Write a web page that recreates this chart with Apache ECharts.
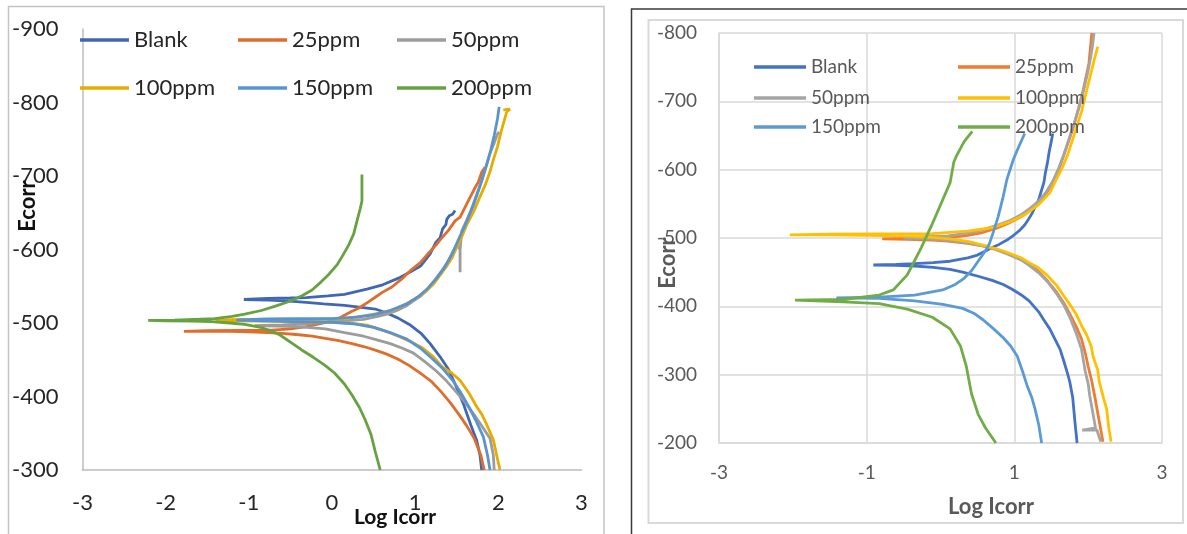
<!DOCTYPE html>
<html><head><meta charset="utf-8">
<script src="https://cdn.jsdelivr.net/npm/echarts@6/dist/echarts.min.js"></script>
<style>html,body{margin:0;padding:0;background:#fff}#c{width:1187px;height:534px}</style>
</head><body><div id="c"></div>
<script>
// ---------- shared ----------
const seriesNames = ['Blank','25ppm','50ppm','100ppm','150ppm','200ppm'];
const xTicksLeft = [-3,-2,-1,0,1,2,3];
const yTicksLeft = [-900,-800,-700,-600,-500,-400,-300];
const xTicksRight = [-3,-1,1,3];
const yTicksRight = [-800,-700,-600,-500,-400,-300,-200];

// ---------- left chart data: [Log Icorr, Ecorr] ----------
const L_blank = [[1.80,-300],[1.78,-320],[1.74,-340],[1.67,-361],[1.58,-390],[1.48,-417],[1.40,-437],[1.30,-454],[1.18,-472],[1.07,-486],[0.93,-498],[0.79,-507],[0.65,-514],[0.52,-519],[0.30,-522],[0.15,-524],[-0.10,-526],[-0.31,-528],[-0.55,-530],[-0.77,-531],[-1.06,-532],
 [-0.77,-533.5],[-0.50,-534],[-0.31,-534.5],[-0.05,-537],[0.15,-539],[0.42,-546],[0.61,-552],[0.80,-561],[0.95,-570],[1.07,-578],[1.18,-594],[1.25,-610],[1.30,-616],[1.33,-628],[1.37,-634],[1.38,-641],[1.41,-646],[1.45,-648],[1.48,-653]];
const L_25 = [[1.83,-300],[1.79,-320],[1.71,-343],[1.62,-360],[1.53,-375],[1.42,-392],[1.30,-408],[1.19,-421],[1.07,-431],[0.93,-442],[0.79,-451],[0.65,-458],[0.52,-463],[0.38,-468],[0.24,-472],[0.08,-476],[-0.08,-479],[-0.24,-482],[-0.40,-484],[-0.60,-486],[-0.77,-487],[-1.00,-488],[-1.23,-488.5],[-1.50,-488.5],[-1.78,-488.5],
 [-1.50,-489.5],[-1.10,-490],[-0.77,-490],[-0.50,-492],[-0.31,-495],[-0.10,-500],[0.06,-505],[0.24,-516],[0.32,-520],[0.43,-528],[0.52,-535],[0.61,-542],[0.72,-549],[0.84,-560],[0.95,-572],[1.07,-583],[1.16,-595],[1.25,-606],[1.30,-613],[1.40,-626],[1.48,-639],[1.54,-644],[1.62,-662],[1.66,-671],[1.72,-684],[1.76,-692],[1.80,-705],[1.84,-712]];
const L_50 = [[1.95,-300],[1.94,-320],[1.90,-343],[1.80,-360],[1.71,-375],[1.60,-392],[1.48,-408],[1.37,-422],[1.25,-435],[1.12,-447],[0.98,-459],[0.84,-466],[0.70,-472],[0.54,-477],[0.38,-482],[0.15,-487],[-0.08,-492],[-0.30,-494],[-0.54,-495.5],[-0.93,-496.5],
 [-0.60,-497.5],[-0.30,-499],[-0.08,-501],[0.15,-503],[0.38,-505],[0.55,-509],[0.66,-512],[0.78,-517],[0.89,-523],[0.98,-530],[1.07,-537],[1.16,-547],[1.25,-560],[1.32,-571],[1.39,-583],[1.46,-598],[1.50,-606],[1.54,-600],[1.54,-569],[1.54,-600],[1.56,-625],[1.62,-640],[1.67,-653],[1.74,-675],[1.80,-694],[1.85,-712],[1.90,-731],[1.95,-745],[1.99,-757],[2.01,-760]];
const L_100 = [[2.02,-300],[1.98,-320],[1.94,-341],[1.86,-362],[1.80,-376],[1.74,-386],[1.65,-404],[1.54,-422],[1.44,-432],[1.33,-440],[1.22,-454],[1.09,-466],[0.96,-474],[0.82,-481],[0.62,-490],[0.42,-497],[0.20,-500],[-0.10,-501.5],[-0.50,-502],[-0.90,-502.5],[-1.20,-503],[-1.40,-504],
 [-1.10,-505],[-0.60,-505],[-0.20,-505],[0.15,-506],[0.40,-510],[0.61,-514],[0.76,-519],[0.89,-526],[1.00,-533],[1.12,-542],[1.22,-553],[1.30,-565],[1.37,-576],[1.44,-588],[1.50,-603],[1.57,-620],[1.63,-636],[1.71,-653],[1.78,-672],[1.85,-690],[1.90,-706],[1.94,-722],[1.99,-740],[2.03,-759],[2.07,-775],[2.10,-787],[2.14,-791],[2.06,-790]];
const L_150 = [[1.90,-300],[1.87,-320],[1.82,-345],[1.74,-365],[1.65,-385],[1.55,-405],[1.45,-422],[1.34,-437],[1.20,-452],[1.06,-466],[0.90,-478],[0.70,-487],[0.50,-494],[0.25,-499],[0.00,-501],[-0.40,-502],[-0.80,-503],[-1.15,-504],
 [-0.80,-505.5],[-0.40,-506],[0.00,-506],[0.30,-508],[0.50,-511],[0.70,-517],[0.90,-526],[1.05,-537],[1.15,-547],[1.25,-560],[1.35,-575],[1.44,-593],[1.53,-616],[1.62,-638],[1.70,-660],[1.77,-683],[1.84,-708],[1.90,-731],[1.95,-755],[1.99,-778],[2.01,-794]];
const L_200 = [[0.58,-300],[0.52,-325],[0.47,-348],[0.40,-368],[0.33,-385],[0.24,-402],[0.15,-417],[0.03,-432],[-0.08,-442],[-0.22,-453],[-0.36,-463],[-0.50,-474],[-0.63,-484],[-0.75,-490],[-0.86,-494],[-1.05,-498],[-1.23,-500],[-1.45,-502],[-1.69,-502.5],[-2.00,-503],[-2.21,-503.5],
 [-1.90,-504],[-1.65,-505],[-1.41,-506],[-1.20,-509],[-1.05,-512],[-0.85,-517],[-0.68,-523],[-0.50,-530],[-0.36,-537],[-0.24,-545],[-0.13,-556],[-0.04,-566],[0.06,-579],[0.13,-592],[0.20,-606],[0.26,-621],[0.31,-643],[0.34,-656],[0.36,-666],[0.36,-685],[0.36,-702]];

// ---------- right chart data: [Log Icorr, Ecorr] ----------
const R_blank = [[1.85,-200],[1.82,-232],[1.79,-267],[1.75,-290],[1.72,-302],[1.67,-320],[1.62,-337],[1.55,-352],[1.48,-367],[1.40,-380],[1.33,-392],[1.20,-408],[1.09,-417],[0.97,-425],[0.85,-432],[0.70,-438],[0.51,-444],[0.30,-450],[0.13,-454],[-0.10,-457],[-0.35,-459],[-0.60,-460],[-0.91,-460.5],
 [-0.60,-461.5],[-0.35,-462.5],[-0.10,-464],[0.13,-466],[0.37,-471],[0.50,-475],[0.61,-481],[0.70,-486],[0.80,-491],[0.90,-497],[0.99,-504],[1.07,-511],[1.14,-519],[1.19,-527],[1.24,-536],[1.28,-545],[1.33,-556],[1.36,-567],[1.40,-581],[1.42,-595],[1.45,-611],[1.47,-625],[1.50,-641],[1.52,-653]];
const R_25 = [[2.20,-202],[2.15,-232],[2.10,-262],[2.05,-290],[2.00,-312],[1.96,-332],[1.91,-352],[1.84,-370],[1.76,-387],[1.67,-405],[1.57,-421],[1.45,-437],[1.33,-451],[1.20,-461],[1.09,-469],[0.92,-477],[0.75,-484],[0.55,-489],[0.37,-492],[0.10,-495.5],[-0.11,-497],[-0.45,-498],[-0.79,-498.7],
 [-0.45,-499.5],[-0.11,-500],[0.15,-501],[0.37,-504],[0.57,-508],[0.75,-514],[0.93,-522],[1.09,-531],[1.22,-541],[1.33,-551],[1.43,-565],[1.52,-581],[1.60,-600],[1.67,-621],[1.74,-643],[1.81,-666],[1.87,-690],[1.93,-715],[1.97,-735],[2.01,-755],[2.03,-778],[2.05,-800]];
const R_50 = [[2.17,-202],[2.13,-215],[2.12,-219],[1.92,-219],[2.10,-222],[2.07,-240],[2.05,-252],[2.02,-270],[2.00,-287],[1.96,-305],[1.91,-337],[1.84,-360],[1.76,-382],[1.67,-402],[1.57,-419],[1.45,-436],[1.33,-449],[1.20,-460],[1.09,-468],[0.92,-476],[0.75,-483],[0.55,-489],[0.37,-493],[0.10,-497],[-0.20,-499],[-0.50,-500],
 [-0.20,-502],[0.10,-503],[0.37,-507],[0.57,-512],[0.75,-518],[0.93,-525],[1.09,-534],[1.22,-544],[1.33,-554],[1.43,-567],[1.52,-583],[1.60,-602],[1.67,-622],[1.74,-645],[1.81,-668],[1.88,-692],[1.94,-717],[1.99,-740],[2.03,-762],[2.06,-782],[2.08,-800]];
const R_100 = [[2.31,-202],[2.28,-222],[2.25,-250],[2.21,-265],[2.15,-290],[2.13,-307],[2.07,-325],[2.04,-342],[1.98,-358],[1.91,-372],[1.84,-388],[1.77,-400],[1.66,-417],[1.57,-431],[1.45,-445],[1.33,-456],[1.20,-464],[1.09,-471],[0.95,-477],[0.85,-481],[0.60,-489],[0.37,-495],[0.10,-499],[-0.11,-501],[-0.50,-503],[-1.00,-504],[-1.50,-504.5],[-2.04,-504.7],
 [-1.50,-505.5],[-0.83,-506],[-0.11,-506.5],[0.37,-510],[0.70,-515],[0.95,-524],[1.14,-534],[1.33,-549],[1.48,-566],[1.57,-586],[1.65,-603],[1.72,-621],[1.81,-651],[1.91,-685],[2.00,-725],[2.08,-760],[2.13,-780]];
const R_150 = [[1.37,-200],[1.33,-227],[1.28,-250],[1.235,-267],[1.17,-285],[1.12,-302],[1.04,-327],[0.95,-342],[0.85,-354],[0.72,-367],[0.58,-380],[0.45,-390],[0.30,-397],[0.03,-403],[-0.35,-408],[-0.83,-411.5],[-1.41,-412.5],
 [-0.83,-413.5],[-0.35,-416.5],[0.03,-424],[0.20,-432],[0.32,-441],[0.42,-452],[0.51,-466],[0.60,-480],[0.66,-491],[0.72,-510],[0.78,-531],[0.85,-561],[0.90,-586],[0.99,-616],[1.07,-636],[1.14,-653]];
const R_200 = [[0.75,-200],[0.61,-222],[0.51,-242],[0.42,-272],[0.35,-312],[0.27,-342],[0.13,-367],[-0.11,-384],[-0.45,-396],[-0.83,-404],[-1.32,-406.5],[-1.97,-409],
 [-1.32,-410],[-0.83,-416.5],[-0.64,-424],[-0.45,-446],[-0.26,-486],[-0.11,-521],[0.03,-556],[0.13,-581],[0.18,-611],[0.22,-621],[0.32,-641],[0.43,-656]];

const leftData = [L_blank, L_25, L_50, L_100, L_150, L_200];
const rightData = [R_blank, R_25, R_50, R_100, R_150, R_200];
const leftColors = ['#4167b4','#df6d2b','#9c9c9c','#e7ac00','#5894cf','#66a23f'];
const rightColors = ['#4472c4','#ed7d31','#a5a5a5','#ffc000','#5b9bd5','#70ad47'];

const FF = 'Lato, "Noto Sans", sans-serif';

const series = [];
seriesNames.forEach((n, i) => {
  series.push({name: n, type: 'line', xAxisIndex: 0, yAxisIndex: 0, data: leftData[i],
    symbol: 'none', lineStyle: {width: 2.8, color: leftColors[i]}, itemStyle: {color: leftColors[i]}, z: 2});
});
seriesNames.forEach((n, i) => {
  series.push({name: n, type: 'line', xAxisIndex: 1, yAxisIndex: 1, data: rightData[i],
    symbol: 'none', lineStyle: {width: 2.8, color: rightColors[i]}, itemStyle: {color: rightColors[i]}, z: 2});
});

// legends: left 2 rows x 3 cols, right 3 rows x 2 cols
const legends = [];
const lCols = [80, 238, 397], lRows = [29, 77];
seriesNames.forEach((n, i) => {
  legends.push({left: lCols[i % 3], top: lRows[Math.floor(i / 3)], padding: 0, selectedMode: false,
    icon: 'rect', itemWidth: 49, itemHeight: 3.5,
    textStyle: {fontSize: 22, color: '#262626', fontFamily: FF},
    data: [{name: n, itemStyle: {color: leftColors[i]}}]});
});
const rCols = [754, 958], rRows = [57.5, 88.5, 117.5];
seriesNames.forEach((n, i) => {
  legends.push({left: rCols[i % 2], top: rRows[Math.floor(i / 2)], padding: 0, selectedMode: false,
    icon: 'rect', itemWidth: 52, itemHeight: 3.5,
    textStyle: {fontSize: 19, color: '#595959', fontFamily: FF},
    data: [{name: n, itemStyle: {color: rightColors[i]}}]});
});

const chart = echarts.init(document.getElementById('c'), null, {renderer: 'canvas'});
chart.setOption({
  animation: false,
  backgroundColor: '#ffffff',
  grid: [
    {left: 82.5, top: 29, width: 499, height: 441},
    {left: 719, top: 33, width: 443, height: 410}
  ],
  xAxis: [
    {gridIndex: 0, type: 'value', min: xTicksLeft[0], max: xTicksLeft[xTicksLeft.length - 1], interval: 1,
      axisLine: {onZero: false, lineStyle: {color: '#bcbcbc', width: 1.5}}, axisTick: {show: false}, splitLine: {show: false},
      axisLabel: {fontSize: 22, color: '#262626', margin: 22, fontFamily: FF, showMinLabel: true, showMaxLabel: true}},
    {gridIndex: 1, type: 'value', min: xTicksRight[0], max: xTicksRight[xTicksRight.length - 1], interval: 2,
      axisLine: {onZero: false, lineStyle: {color: '#d9d9d9', width: 1.5}}, axisTick: {show: false},
      splitLine: {show: true, lineStyle: {color: '#d9d9d9', width: 1.5}},
      axisLabel: {fontSize: 19, color: '#595959', margin: 20, fontFamily: FF, showMinLabel: true, showMaxLabel: true}}
  ],
  yAxis: [
    {gridIndex: 0, type: 'value', inverse: true, min: yTicksLeft[0], max: yTicksLeft[yTicksLeft.length - 1], interval: 100,
      axisLine: {show: true, onZero: false, lineStyle: {color: '#bcbcbc', width: 1.5}}, axisTick: {show: false}, splitLine: {show: false},
      axisLabel: {fontSize: 22, color: '#262626', margin: 24, fontFamily: FF, showMinLabel: true, showMaxLabel: true}},
    {gridIndex: 1, type: 'value', inverse: true, min: yTicksRight[0], max: yTicksRight[yTicksRight.length - 1], interval: 100,
      axisLine: {show: true, onZero: false, lineStyle: {color: '#d9d9d9', width: 1.5}}, axisTick: {show: false},
      splitLine: {show: true, lineStyle: {color: '#d9d9d9', width: 1.5}},
      axisLabel: {fontSize: 19, color: '#595959', margin: 22, fontFamily: FF, showMinLabel: true, showMaxLabel: true}}
  ],
  legend: legends,
  series: series,
  graphic: [
    {type: 'rect', silent: true, z: -1, shape: {x: 8.5, y: 6.5, width: 595.5, height: 560},
      style: {fill: 'none', stroke: '#c4c4c4', lineWidth: 1.5}},
    {type: 'rect', silent: true, z: -1, shape: {x: 631.5, y: 9, width: 580, height: 560},
      style: {fill: 'none', stroke: '#3a3a3a', lineWidth: 1.5}},
    {type: 'rect', silent: true, z: -1, shape: {x: 648.5, y: 20, width: 534.5, height: 503},
      style: {fill: 'none', stroke: '#d9d9d9', lineWidth: 2}},
    {type: 'text', x: 395, y: 517, z: 10, style: {text: 'Log Icorr', fontSize: 21, fontWeight: 'bold', fontFamily: FF,
      fill: '#111', align: 'center', verticalAlign: 'middle'}},
    {type: 'text', x: 28, y: 206, rotation: Math.PI / 2, z: 10, style: {text: 'Ecorr', fontSize: 22, fontWeight: 'bold', fontFamily: FF,
      fill: '#111', align: 'center', verticalAlign: 'middle'}},
    {type: 'text', x: 991, y: 507, z: 10, style: {text: 'Log Icorr', fontSize: 22, fontWeight: 'bold', fontFamily: FF,
      fill: '#595959', align: 'center', verticalAlign: 'middle'}},
    {type: 'text', x: 668, y: 263, rotation: Math.PI / 2, z: 10, style: {text: 'Ecorr', fontSize: 22, fontWeight: 'bold', fontFamily: FF,
      fill: '#595959', align: 'center', verticalAlign: 'middle'}}
  ]
});
</script></body></html>
